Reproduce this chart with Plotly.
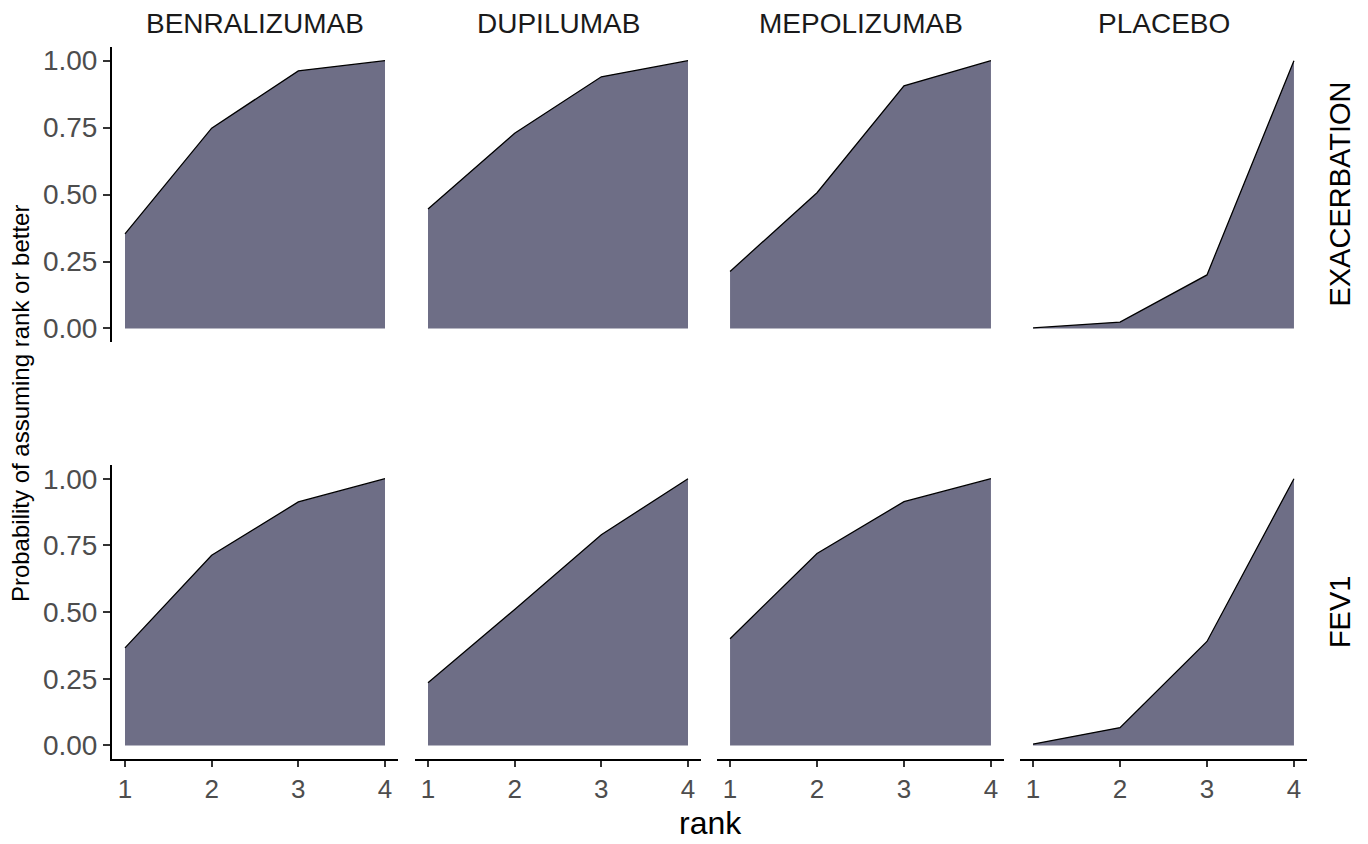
import plotly.graph_objects as go

W, H = 1368, 844

treatments = ["BENRALIZUMAB", "DUPILUMAB", "MEPOLIZUMAB", "PLACEBO"]
outcomes = ["EXACERBATION", "FEV1"]
ranks = [1, 2, 3, 4]

exacerbation = {
    "BENRALIZUMAB": [0.353, 0.748, 0.962, 1.0],
    "DUPILUMAB": [0.446, 0.729, 0.940, 1.0],
    "MEPOLIZUMAB": [0.213, 0.507, 0.906, 1.0],
    "PLACEBO": [0.002, 0.024, 0.200, 1.0],
}
fev1 = {
    "BENRALIZUMAB": [0.366, 0.713, 0.913, 1.0],
    "DUPILUMAB": [0.235, 0.510, 0.790, 1.0],
    "MEPOLIZUMAB": [0.400, 0.720, 0.914, 1.0],
    "PLACEBO": [0.005, 0.067, 0.390, 1.0],
}
data = {"EXACERBATION": exacerbation, "FEV1": fev1}

y_ticks = [0, 0.25, 0.5, 0.75, 1.0]
y_ticktext = ["0.00", "0.25", "0.50", "0.75", "1.00"]

# panel pixel extents
col_px = [(112, 398), (415, 701), (717, 1004), (1020, 1307)]
row_px = [(45.5, 341.5), (465.6, 760.4)]

FILL = "#6E6E86"
FONT = "Liberation Sans, Arial, Helvetica, sans-serif"

fig = go.Figure()
layout = {}
idx = 0
for r, out in enumerate(outcomes):
    for c, tr in enumerate(treatments):
        idx += 1
        xa = "x" if idx == 1 else f"x{idx}"
        ya = "y" if idx == 1 else f"y{idx}"
        fig.add_trace(go.Scatter(
            x=ranks, y=data[out][tr], mode="lines",
            fill="tozeroy", fillcolor=FILL,
            line=dict(color="black", width=1.3),
            xaxis=xa, yaxis=ya, showlegend=False, hoverinfo="x+y"))
        x0, x1 = col_px[c]
        t0, t1 = row_px[r]
        bottom = (r == len(outcomes) - 1)
        left = (c == 0)
        layout["xaxis" if idx == 1 else f"xaxis{idx}"] = dict(
            domain=[x0 / W, x1 / W], range=[0.85, 4.15], anchor=ya,
            tickvals=ranks, ticktext=[str(v) for v in ranks],
            showticklabels=bottom, ticks="outside" if bottom else "",
            ticklen=6, tickwidth=1.5, tickcolor="#333333",
            showline=bottom, linecolor="black", linewidth=2,
            showgrid=False, zeroline=False,
            tickfont=dict(size=26, color="#4D4D4D", family=FONT),
            fixedrange=True)
        layout["yaxis" if idx == 1 else f"yaxis{idx}"] = dict(
            domain=[1 - t1 / H, 1 - t0 / H], range=[-0.05, 1.05], anchor=xa,
            tickvals=y_ticks, ticktext=y_ticktext,
            showticklabels=left, ticks="outside" if left else "",
            ticklen=7, tickwidth=1.5, tickcolor="#333333",
            showline=left, linecolor="black", linewidth=2,
            showgrid=False, zeroline=False,
            tickfont=dict(size=28, color="#4D4D4D", family=FONT),
            fixedrange=True)

annotations = []
for c, tr in enumerate(treatments):
    x0, x1 = col_px[c]
    annotations.append(dict(
        text=tr, x=(x0 + x1) / 2 / W, y=1 - 22 / H, xref="paper", yref="paper",
        showarrow=False, xanchor="center", yanchor="middle",
        font=dict(size=28, color="#1A1A1A", family=FONT)))
for r, out in enumerate(outcomes):
    t0, t1 = row_px[r]
    annotations.append(dict(
        text=out, x=1340 / W, y=1 - (t0 + t1) / 2 / H, xref="paper", yref="paper",
        showarrow=False, xanchor="center", yanchor="middle", textangle=-90,
        font=dict(size=29, color="black", family=FONT)))
annotations.append(dict(
    text="rank", x=710 / W, y=0, xref="paper", yref="paper",
    showarrow=False, xanchor="center", yanchor="bottom", borderpad=0,
    font=dict(size=32, color="black", family=FONT)))
annotations.append(dict(
    text="Probability of assuming rank or better", x=20 / W, y=1 - 403 / H,
    xref="paper", yref="paper", showarrow=False, xanchor="center",
    yanchor="middle", textangle=-90,
    font=dict(size=24, color="black", family=FONT)))

fig.update_layout(
    width=W, height=H, margin=dict(l=0, r=0, t=0, b=0),
    paper_bgcolor="white", plot_bgcolor="white",
    annotations=annotations, **layout)

fig.write_html("out.html")
